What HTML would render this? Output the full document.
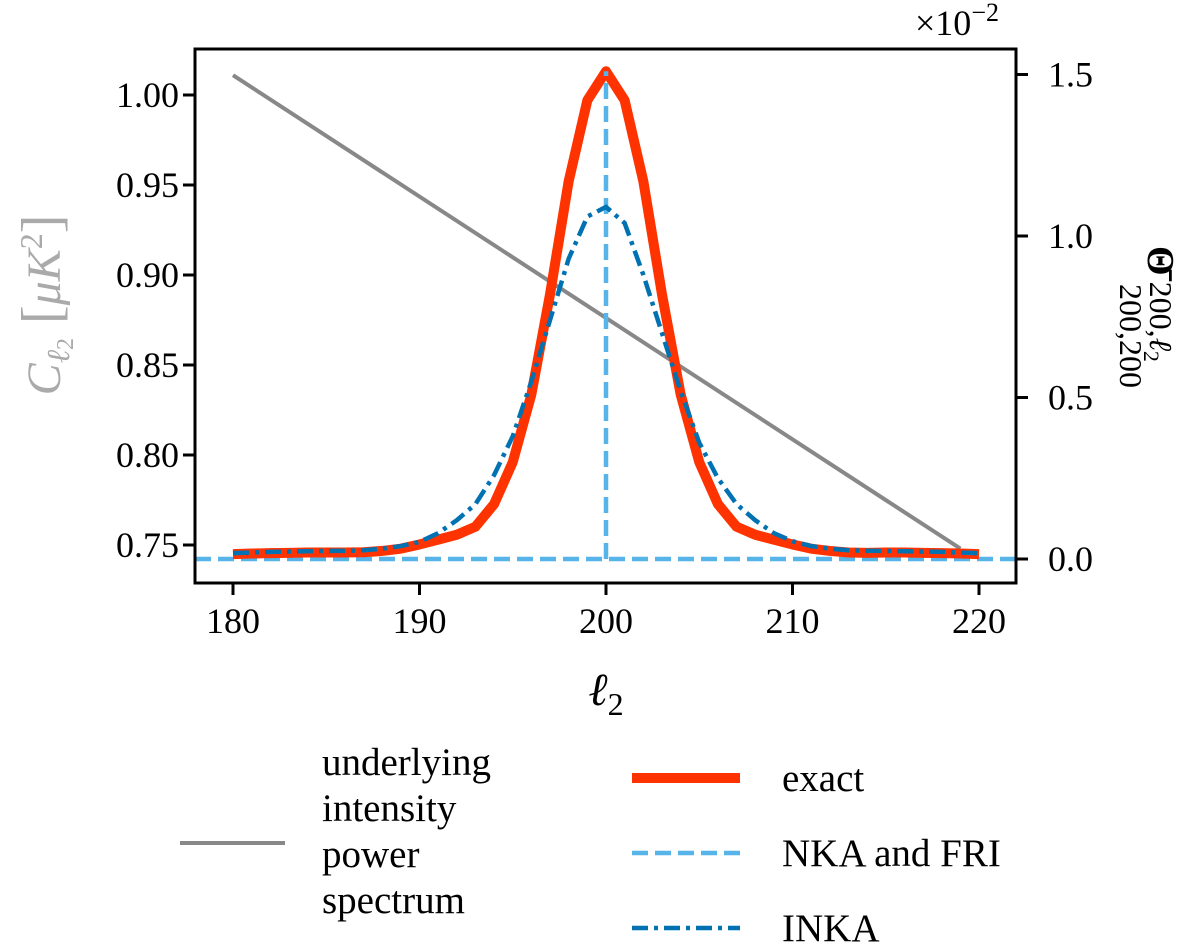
<!DOCTYPE html>
<html><head><meta charset="utf-8"><style>
html,body{margin:0;padding:0;background:#fff;}
svg text{font-family:"Liberation Serif","DejaVu Serif",serif;}
</style></head><body>
<svg id="chart" width="1200" height="944" viewBox="0 0 1200 944" xmlns="http://www.w3.org/2000/svg">
<g id="plot"></g>
<g id="axes"></g>
<text x="0" y="0" font-size="48" fill="#aaa" text-anchor="middle" transform="translate(60 305) rotate(-90)"><tspan font-style="italic">C</tspan><tspan font-style="italic" font-size="32" dy="9">ℓ</tspan><tspan font-size="24" dy="4">2</tspan><tspan dy="-13" font-size="56"> [</tspan><tspan font-style="italic">μK</tspan><tspan font-size="32" dy="-18">2</tspan><tspan dy="18" font-size="56">]</tspan></text>
<text x="0" y="0" font-size="38" transform="translate(1148 246) rotate(90)"><tspan font-weight="bold">Θ̄</tspan><tspan font-size="32" dx="6" dy="-2">200,</tspan><tspan font-size="32" font-style="italic">ℓ</tspan><tspan font-size="22" dy="6">2</tspan></text>
<text x="0" y="0" font-size="32" transform="translate(1120 284) rotate(90)">200,200</text>
<text x="915" y="35" font-size="36">×10<tspan font-size="26" dy="-14">−2</tspan></text>
<text x="606" y="705" font-size="46" font-style="italic" text-anchor="middle">ℓ<tspan font-style="normal" font-size="32" dy="10">2</tspan></text>
<g font-size="39">
<line x1="180" y1="843" x2="285" y2="843" stroke="#888" stroke-width="4"/>
<text x="322" y="775"><tspan x="322">underlying</tspan><tspan x="322" dy="46">intensity</tspan><tspan x="322" dy="46">power</tspan><tspan x="322" dy="46">spectrum</tspan></text>
<line x1="632" y1="778" x2="740" y2="778" stroke="#ff3300" stroke-width="10"/>
<text x="782" y="791">exact</text>
<line x1="632" y1="853" x2="740" y2="853" stroke="#56b4e9" stroke-width="4.5" stroke-dasharray="16 7"/>
<text x="782" y="866">NKA and FRI</text>
<line x1="632" y1="928" x2="740" y2="928" stroke="#0072b2" stroke-width="4.5" stroke-dasharray="16 6 4 6"/>
<text x="782" y="941">INKA</text>
</g>
</svg>
<script>
const ells = [180,181,182,183,184,185,186,187,188,189,190,191,192,193,194,195,196,197,198,199,200,201,202,203,204,205,206,207,208,209,210,211,212,213,214,215,216,217,218,219,220];
const exactVals = [0.015,0.017,0.018,0.019,0.020,0.020,0.020,0.021,0.025,0.032,0.045,0.060,0.075,0.10,0.17,0.30,0.51,0.82,1.17,1.42,1.51,1.42,1.17,0.82,0.51,0.30,0.17,0.10,0.075,0.060,0.045,0.032,0.025,0.020,0.019,0.020,0.020,0.019,0.018,0.017,0.015];
const inkaVals = [0.018,0.020,0.022,0.023,0.024,0.025,0.025,0.027,0.032,0.040,0.053,0.080,0.12,0.17,0.26,0.38,0.55,0.74,0.93,1.06,1.09,1.04,0.88,0.70,0.52,0.36,0.25,0.17,0.12,0.08,0.055,0.04,0.032,0.027,0.025,0.025,0.024,0.023,0.022,0.020,0.018];
const grayEll = [180,219];
const grayVals = [1.011,0.748];
const xTicks = [180,190,200,210,220];
const leftTicks = [0.75,0.80,0.85,0.90,0.95,1.00];
const rightTicks = [0.0,0.5,1.0,1.5];
const refEll = [200];

const X0=195,X1=1016,Y0=49,Y1=583;
const xs = v => 233 + (v-180)*(979-233)/40;
const yl = v => 95 + (1.0-v)*1800;
const yr = v => 559 - v*323;
const NS="http://www.w3.org/2000/svg";
const plot=document.getElementById('plot'), axes=document.getElementById('axes');
function mk(tag,attrs,parent){const e=document.createElementNS(NS,tag);for(const k in attrs)e.setAttribute(k,attrs[k]);parent.appendChild(e);return e;}

const clip=mk('clipPath',{id:'clp'},plot);
mk('rect',{x:X0,y:Y0,width:X1-X0,height:Y1-Y0},clip);
const g=mk('g',{'clip-path':'url(#clp)'},plot);

let gp=mk('polyline',{points:grayEll.map((e,i)=>xs(e)+','+yl(grayVals[i])).join(' '),fill:'none',stroke:'#888',"stroke-width":4},g);



let hz=mk('line',{x1:X0,x2:X1,y1:yr(0),y2:yr(0),stroke:'#56b4e9','stroke-width':4.5,'stroke-dasharray':'16 7'},g);



let ex=mk('polyline',{points:ells.map((e,i)=>xs(e)+','+yr(exactVals[i])).join(' '),fill:'none',stroke:'#ff3300','stroke-width':10,'stroke-linejoin':'round'},g);



let vt=mk('line',{x1:xs(refEll[0]),x2:xs(refEll[0]),y1:yr(0),y2:yr(exactVals[20]),stroke:'#56b4e9','stroke-width':4.5,'stroke-dasharray':'16 7'},g);



let ik=mk('polyline',{points:ells.map((e,i)=>xs(e)+','+yr(inkaVals[i])).join(' '),fill:'none',stroke:'#0072b2','stroke-width':4.5,'stroke-dasharray':'16 6 4 6'},g);



let fr=mk('rect',{x:X0,y:Y0,width:X1-X0,height:Y1-Y0,fill:'none',stroke:'#000','stroke-width':3},axes);



xTicks.forEach(t=>{
  const x=xs(t);
  mk('line',{x1:x,x2:x,y1:Y1,y2:Y1+12,stroke:'#000','stroke-width':3},axes);
  const tx=mk('text',{x:x,y:Y1+50,'font-size':36,'text-anchor':'middle'},axes);
  tx.textContent=t;
  
  
});
leftTicks.forEach(t=>{
  const y=yl(t);
  mk('line',{x1:X0-12,x2:X0,y1:y,y2:y,stroke:'#000','stroke-width':3},axes);
  const tx=mk('text',{x:X0-16,y:y+12,'font-size':36,'text-anchor':'end'},axes);
  tx.textContent=t.toFixed(2);
  
  
});
rightTicks.forEach(t=>{
  const y=yr(t);
  mk('line',{x1:X1,x2:X1+12,y1:y,y2:y,stroke:'#000','stroke-width':3},axes);
  const tx=mk('text',{x:X1+32,y:y+12,'font-size':36},axes);
  tx.textContent=t.toFixed(1);
  
  
});
</script>
</body></html>
